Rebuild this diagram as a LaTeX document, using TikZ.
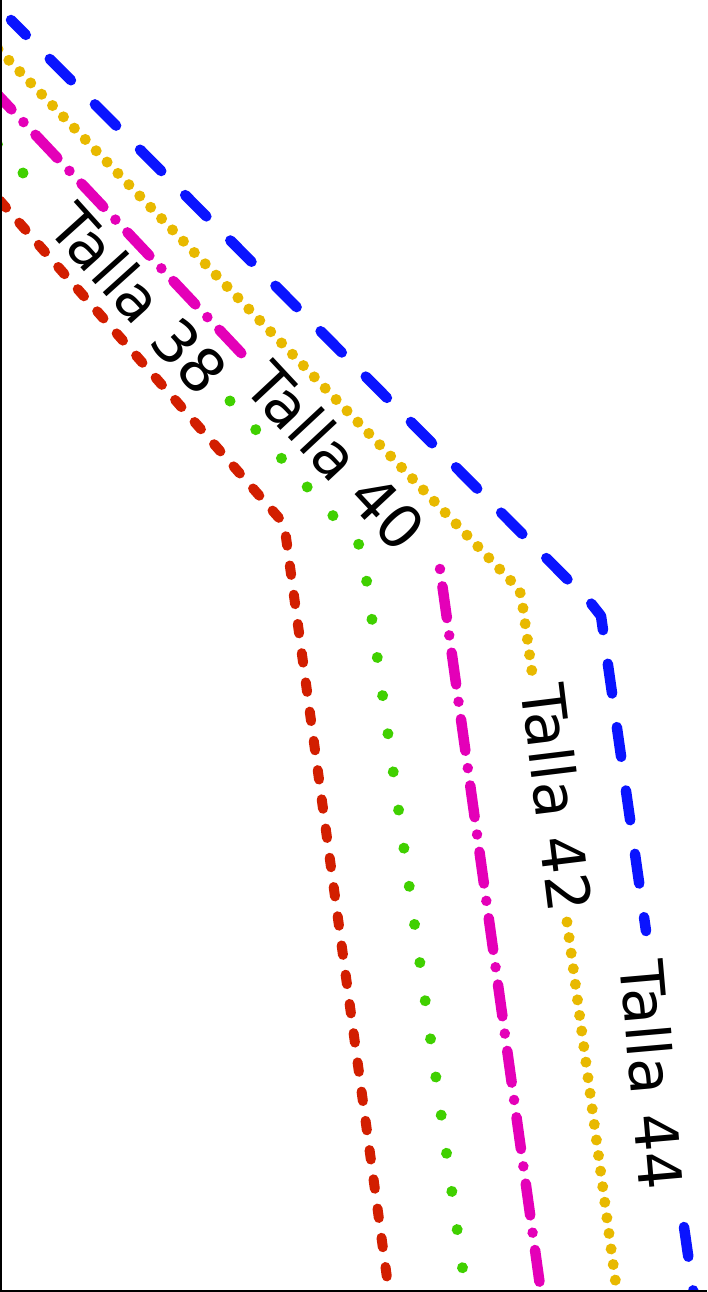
\documentclass[tikz,border=0pt]{standalone}
\usepackage{fontspec}
\setmainfont{DejaVu Sans}
\definecolor{blueC}{RGB}{10,20,255}
\definecolor{yellowC}{RGB}{232,185,0}
\definecolor{magC}{RGB}{228,0,184}
\definecolor{greenC}{RGB}{64,208,0}
\definecolor{redC}{RGB}{210,30,0}
\begin{document}
\begin{tikzpicture}[x=1pt,y=-1pt,
  lbl/.style={font=\fontsize{60}{72}\selectfont, inner sep=0pt, anchor=center, text=black},
  t44/.style={draw=blueC, line width=10.5pt, line cap=round, line join=round, dash pattern=on 30pt off 34pt},
  t42/.style={draw=yellowC, line width=11pt, line cap=round, line join=round, dash pattern=on 0.01pt off 15.7pt},
  t40/.style={draw=magC, line width=10.5pt, line cap=round, line join=round, dash pattern=on 32pt off 17.5pt on 0.01pt off 17.5pt},
  t38/.style={draw=greenC, line width=11pt, line cap=round, line join=round, dash pattern=on 0.01pt off 38.5pt},
  t36/.style={draw=redC, line width=10pt, line cap=round, line join=round, dash pattern=on 9.5pt off 20pt},
  axisline/.style={draw=black, line width=2pt}
]
\useasboundingbox (0,0) rectangle (707,1292);
\begin{scope}
\clip (0,0) rectangle (707,1292);
% red contour
\draw[t36] (-19.7,178.4) -- (279,518) -- (285,530) -- (390,1300);
% green contour (Talla 38)
\draw[t38] (23,173) -- (-15,130);
\draw[t38] (230,401) -- (362,548) -- (467,1300);
% magenta contour (Talla 40)
\draw[t40] (-10.5,86.1) -- (244,356);
\draw[t40, dash phase=49.5pt] (440,569) -- (542,1300);
% yellow contour (Talla 42)
\draw[t42] (-2,49) -- (515,585) -- (521,594) -- (532,672);
\draw[t42] (567,922) -- (618,1300);
% blue contour (Talla 44)
\draw[t44, dash phase=9pt] (11,20) -- (590,602) -- (601,616) -- (646,931);
\draw[t44] (684,1227) -- (696,1310);
\end{scope}
% labels
\node[lbl, rotate=-48] (l38) at (139,299) {Talla 38};
\node[lbl, rotate=-47] (l40) at (336,456) {Talla 40};
\node[lbl, rotate=-83] (l42) at (557,798) {Talla 42};
\node[lbl, rotate=-85] (l44) at (652,1075) {Talla 44};
% axes
\coordinate (axtop) at (1,0);
\coordinate (axcorner) at (1,1291);
\coordinate (axright) at (707,1291);
\draw[axisline] (axtop) -- (axcorner) -- (axright);
\end{tikzpicture}
\end{document}
